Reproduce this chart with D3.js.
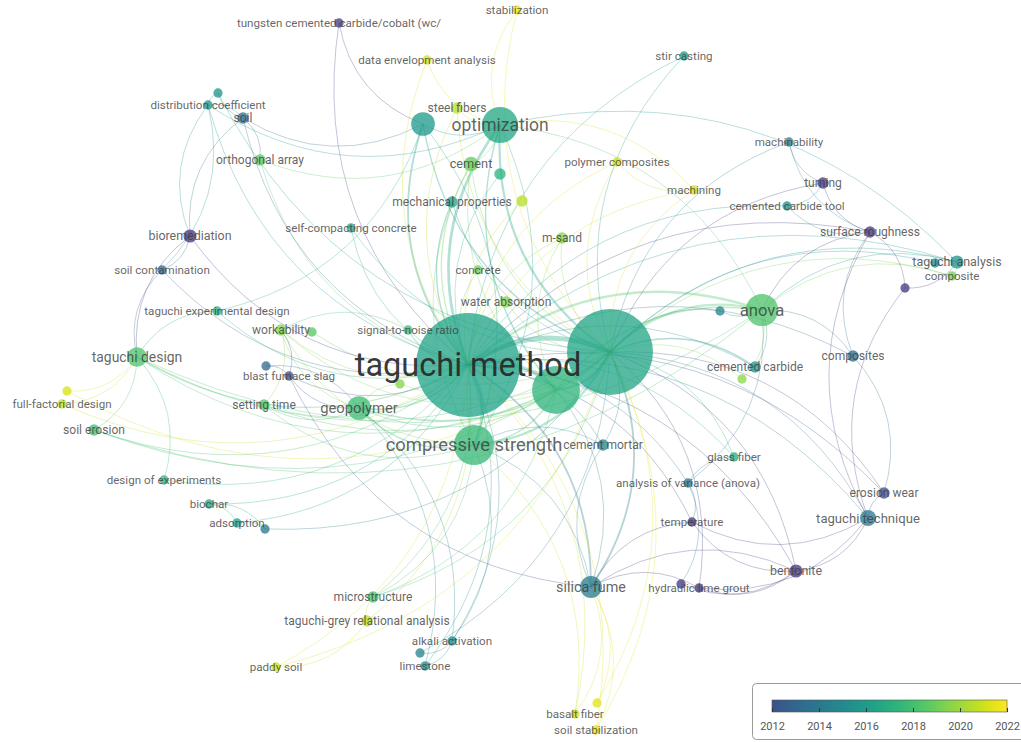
<!DOCTYPE html>
<html>
<head>
<meta charset="utf-8">
<script src="https://cdn.jsdelivr.net/npm/d3@7"></script>
<style>
    html, body { margin: 0; padding: 0; background: #fff; }
    svg { display: block; font-family: Roboto, "Open Sans", sans-serif; }
</style>
</head>
<body>
<svg id="map" width="1021" height="742"></svg>
<script>
// keyword map (VOSviewer overlay) - labels, map coordinates, occurrences, avg. publication year
const nodeLabels = [
    "taguchi method", "", "", "optimization", "", "compressive strength", "anova", "geopolymer",
    "silica fume", "taguchi design", "taguchi technique", "bentonite", "bioremediation", "surface roughness",
    "turning", "taguchi analysis", "", "composite", "", "composites", "cemented carbide", "", "",
    "glass fiber", "analysis of variance (anova)", "erosion wear", "temperature", "", "hydraulic lime grout",
    "cement mortar", "signal-to-noise ratio", "water absorption", "concrete", "m-sand", "mechanical properties",
    "", "cement", "", "steel fibers", "data envelopment analysis", "stabilization",
    "tungsten cemented carbide/cobalt (wc/", "stir casting", "polymer composites", "machining", "machinability",
    "cemented carbide tool", "distribution coefficient", "", "soil", "orthogonal array", "self-compacting concrete",
    "soil contamination", "taguchi experimental design", "workability", "", "", "blast furnace slag", "",
    "setting time", "", "full-factorial design", "soil erosion", "design of experiments", "biochar", "adsorption",
    "", "microstructure", "taguchi-grey relational analysis", "paddy soil", "alkali activation", "", "limestone",
    "basalt fiber", "", "soil stabilization"
];
const nodeX = [
    -0.42, 1.00, 0.46, -0.10, -0.87, -0.36, 2.52, -1.51, 0.81, -3.73, 3.58, 2.86, -3.20, 3.60, 3.13, 4.47,
    4.25, 4.42, 3.95, 3.43, 2.45, 2.32, 2.10, 2.24, 1.78, 3.74, 1.82, 1.71, 1.89, 0.93, -1.02, -0.04, -0.32,
    0.52, -0.58, 0.12, -0.39, -0.10, -0.53, -0.83, 0.07, -1.71, 1.74, 1.07, 1.84, 2.79, 2.77, -3.02, -2.92,
    -2.67, -2.50, -1.59, -3.48, -2.93, -2.29, -1.98, -2.44, -2.21, -1.10, -2.46, -4.43, -4.48, -4.16, -3.46,
    -3.01, -2.73, -2.45, -1.37, -1.43, -2.34, -0.58, -0.90, -0.85, 0.65, 0.87, 0.86
];
const nodeY = [
    -0.06, -0.19, 0.19, -2.46, -2.47, 0.74, -0.61, 0.37, 2.16, -0.14, 1.47, 2.00, -1.35, -1.39, -1.88, -1.09,
    -1.08, -0.95, -0.83, -0.15, -0.04, 0.08, -0.60, 0.86, 1.12, 1.22, 1.51, 2.13, 2.17, 0.74, -0.41, -0.69,
    -1.01, -1.33, -1.69, -1.70, -2.07, -1.97, -2.63, -3.11, -3.61, -3.48, -3.15, -2.09, -1.81, -2.29, -1.65,
    -2.66, -2.78, -2.53, -2.11, -1.43, -1.01, -0.60, -0.41, -0.39, -0.05, 0.05, 0.13, 0.34, 0.20, 0.33, 0.59,
    1.09, 1.33, 1.52, 1.58, 2.26, 2.50, 2.96, 2.70, 2.82, 2.95, 3.43, 3.32, 3.59
];
const nodeWeight = [
    250, 171, 53, 30, 13, 37, 24, 13, 11, 9, 6, 4, 4, 3, 3, 4, 2, 2, 2, 3, 3, 2, 2, 2, 2, 3, 2, 2, 2, 3,
    2, 3, 2, 3, 3, 3, 5, 3, 3, 2, 2, 2, 2, 2, 2, 2, 2, 2, 2, 3, 3, 2, 2, 2, 3, 2, 2, 2, 2, 3, 2, 2, 3, 2,
    2, 2, 2, 3, 3, 2, 2, 2, 2, 2, 2, 2
];
const nodeYear = [
    2016.4, 2016.5, 2017.3, 2016.6, 2015.9, 2017.6, 2018.3, 2017.8, 2014.2, 2018.2, 2014.0, 2010.8, 2010.6,
    2010.8, 2010.8, 2015.6, 2015.2, 2019.2, 2011.0, 2013.4, 2015.6, 2019.8, 2014.6, 2016.8, 2013.8, 2011.8,
    2011.0, 2010.8, 2010.8, 2014.6, 2017.8, 2019.4, 2019.0, 2019.6, 2016.4, 2020.6, 2018.9, 2017.2, 2020.6,
    2021.0, 2021.4, 2011.0, 2016.0, 2021.0, 2021.0, 2014.4, 2015.4, 2015.6, 2015.6, 2013.4, 2018.6, 2016.6,
    2013.0, 2017.0, 2019.6, 2018.6, 2013.2, 2011.8, 2019.6, 2018.2, 2021.2, 2020.8, 2018.0, 2017.4, 2016.6,
    2016.2, 2014.0, 2018.2, 2020.6, 2021.0, 2015.0, 2014.6, 2015.2, 2021.0, 2021.4, 2021.4
];
// [source, target, link strength]
const links = [
    [0,1,10],[0,2,6],[0,3,5],[0,4,3],[0,5,6],[0,6,4],[0,7,3],[0,8,3],[0,9,2],[0,10,1],[0,11,1],[0,12,1],
    [0,13,1],[0,15,1],[0,19,1],[0,20,1],[0,23,1],[0,24,1],[0,26,1],[0,29,1],[0,30,2],[0,31,1],[0,32,1],
    [0,33,1],[0,34,2],[0,35,1],[0,36,2],[0,37,1],[0,38,1],[0,39,1],[0,41,1],[0,42,1],[0,43,1],[0,44,1],
    [0,46,1],[0,47,1],[0,49,1],[0,50,1],[0,51,1],[0,52,1],[0,53,1],[0,54,1],[0,57,1],[0,59,1],[0,61,1],
    [0,62,1],[0,63,1],[0,64,1],[0,65,1],[0,67,1],[0,68,1],[0,70,1],[0,72,1],[0,73,1],[0,75,1],[0,69,1],[0,25,1],
    [1,2,4],[1,3,4],[1,4,2],[1,5,4],[1,6,4],[1,7,2],[1,8,3],[1,9,1],[1,10,1],[1,14,1],[1,15,1],[1,16,1],
    [1,17,1],[1,20,2],[1,21,1],[1,22,1],[1,23,1],[1,25,1],[1,29,1],[1,31,1],[1,33,1],[1,34,1],[1,36,1],
    [1,38,1],[1,40,1],[1,42,1],[1,43,1],[1,44,1],[1,45,1],[1,48,1],[1,51,1],[1,55,1],[1,58,1],[1,59,1],
    [1,62,1],[1,66,1],[1,67,1],[1,71,1],[1,74,1],[1,75,1],[1,69,1],[1,11,1],[1,28,1],
    [2,3,2],[2,5,2],[2,6,2],[2,7,1],[2,8,1],[2,9,1],[2,36,1],[2,33,1],[2,54,1],[2,67,1],[2,60,1],
    [3,4,1],[3,5,1],[3,6,1],[3,36,1],[3,38,1],[3,39,1],[3,40,1],[3,44,1],[3,47,1],[3,50,1],[3,15,1],
    [4,5,1],[4,49,1],[4,53,1],[4,41,1],
    [5,7,2],[5,8,1],[5,29,1],[5,31,1],[5,36,1],[5,54,1],[5,59,1],[5,67,1],[5,70,1],[5,73,1],
    [6,17,1],[6,15,1],[6,20,1],[6,22,1],[6,21,1],[6,19,1],[6,9,1],[6,62,1],[6,13,1],[6,24,1],
    [7,57,1],[7,58,1],[7,59,1],[7,70,1],[7,72,1],[7,54,1],
    [8,73,1],[8,74,1],[8,75,1],[8,28,1],[8,57,1],[8,11,1],[8,26,1],[8,29,1],
    [9,61,1],[9,60,1],[9,62,1],[9,53,1],[9,12,1],[9,52,1],[9,63,1],
    [10,11,1],[10,25,1],[10,26,1],[10,28,1],[10,13,1],[10,18,1],
    [11,26,1],[11,27,1],[11,28,1],
    [12,52,1],[12,49,1],[12,47,1],
    [13,14,1],[13,18,1],[13,46,1],[13,45,1],
    [14,45,1],[14,46,1],
    [15,16,1],[15,17,1],[15,18,1],
    [19,13,1],[19,25,1],
    [24,26,1],[24,27,1],[24,23,1],
    [47,48,1],[47,49,1],[47,52,1],
    [49,50,1],[49,48,1],
    [54,55,1],[54,57,1],[54,59,1],[54,30,1],
    [56,57,1],[56,7,1],
    [64,65,1],[64,66,1],[65,66,1],
    [68,69,1],[68,67,1],
    [70,71,1],[70,72,1],
    [44,43,1]
];
const legendYears = [2012, 2014, 2016, 2018, 2020, 2022];

const width = 1021, height = 742;
const svg = d3.select("#map");

const x = d3.scaleLinear().domain([-5.1, 5.11]).range([0, width]);
const y = d3.scaleLinear().domain([-3.71, 3.71]).range([0, height]);
const radius = d3.scaleSqrt().domain([0, 250]).range([0, 52]);
const fontSize = d3.scaleSqrt().domain([2, 250]).range([11.6, 32.5]);
const linkWidth = d3.scaleLinear().domain([1, 10]).range([0.9, 5]);
const yearT = d3.scaleLinear().domain([2012, 2022]).range([0.25, 1]);
const color = yr => d3.interpolateViridis(Math.max(0.1, Math.min(1, yearT(yr))));

const nodes = nodeLabels.map((label, i) => ({
    label, x: x(nodeX[i]), y: y(nodeY[i]), w: nodeWeight[i], year: nodeYear[i]
}));

function arcPath(a, b) {
    const dx = b.x - a.x, dy = b.y - a.y;
    const cx = (a.x + b.x) / 2 + dy * 0.28;
    const cy = (a.y + b.y) / 2 - dx * 0.28;
    return `M${a.x},${a.y}Q${cx},${cy} ${b.x},${b.y}`;
}

// edges
svg.append("g")
    .attr("fill", "none")
    .selectAll("path")
    .data(links)
    .join("path")
    .attr("d", d => arcPath(nodes[d[0]], nodes[d[1]]))
    .attr("stroke", d => {
        const a = nodes[d[0]], b = nodes[d[1]];
        return color(a.w <= b.w ? a.year : b.year);
    })
    .attr("stroke-width", d => linkWidth(d[2]))
    .attr("stroke-opacity", 0.34);

// nodes (big ones first, small on top)
const order = d3.range(nodes.length).sort((a, b) => nodes[b].w - nodes[a].w);
svg.append("g")
    .selectAll("circle")
    .data(order.map(i => nodes[i]))
    .join("circle")
    .attr("cx", d => d.x)
    .attr("cy", d => d.y)
    .attr("r", d => radius(d.w))
    .attr("fill", d => color(d.year))
    .attr("fill-opacity", 0.76);

// labels
svg.append("g")
    .attr("text-anchor", "middle")
    .selectAll("text")
    .data(nodes.filter(d => d.label))
    .join("text")
    .attr("x", d => d.x)
    .attr("y", d => d.y)
    .attr("dy", "0.35em")
    .attr("font-size", d => fontSize(d.w))
    .attr("fill", d => d.w > 100 ? "#262626" : "#3c3c3c")
    .attr("fill-opacity", d => d.w > 100 ? 0.92 : 0.8)
    .text(d => d.label);

// legend
const legend = svg.append("g");
legend.append("rect")
    .attr("x", 752.5).attr("y", 683.5)
    .attr("width", 290).attr("height", 56)
    .attr("rx", 4)
    .attr("fill", "#fff")
    .attr("stroke", "#9a9a9a");

const lx = d3.scaleLinear().domain([2012, 2022]).range([772, 1007]);
const grad = svg.append("defs").append("linearGradient").attr("id", "yearGrad");
d3.range(0, 1.0001, 0.05).forEach(t => {
    grad.append("stop")
        .attr("offset", `${t * 100}%`)
        .attr("stop-color", color(2012 + t * 10));
});
legend.append("rect")
    .attr("x", lx(2012)).attr("y", 700)
    .attr("width", lx(2022) - lx(2012)).attr("height", 12)
    .attr("fill", "url(#yearGrad)")
    .attr("stroke", "#555").attr("stroke-width", 0.6);

const axis = legend.append("g")
    .attr("transform", "translate(0,712)")
    .call(d3.axisBottom(lx).tickValues(legendYears).tickFormat(d3.format("d")).tickSize(-4).tickPadding(10));
axis.select(".domain").remove();
axis.selectAll("line").attr("stroke", "#333");
axis.selectAll("text")
    .attr("font-family", "Roboto, sans-serif")
    .attr("font-size", 11)
    .attr("fill", "#555");
</script>
</body>
</html>
